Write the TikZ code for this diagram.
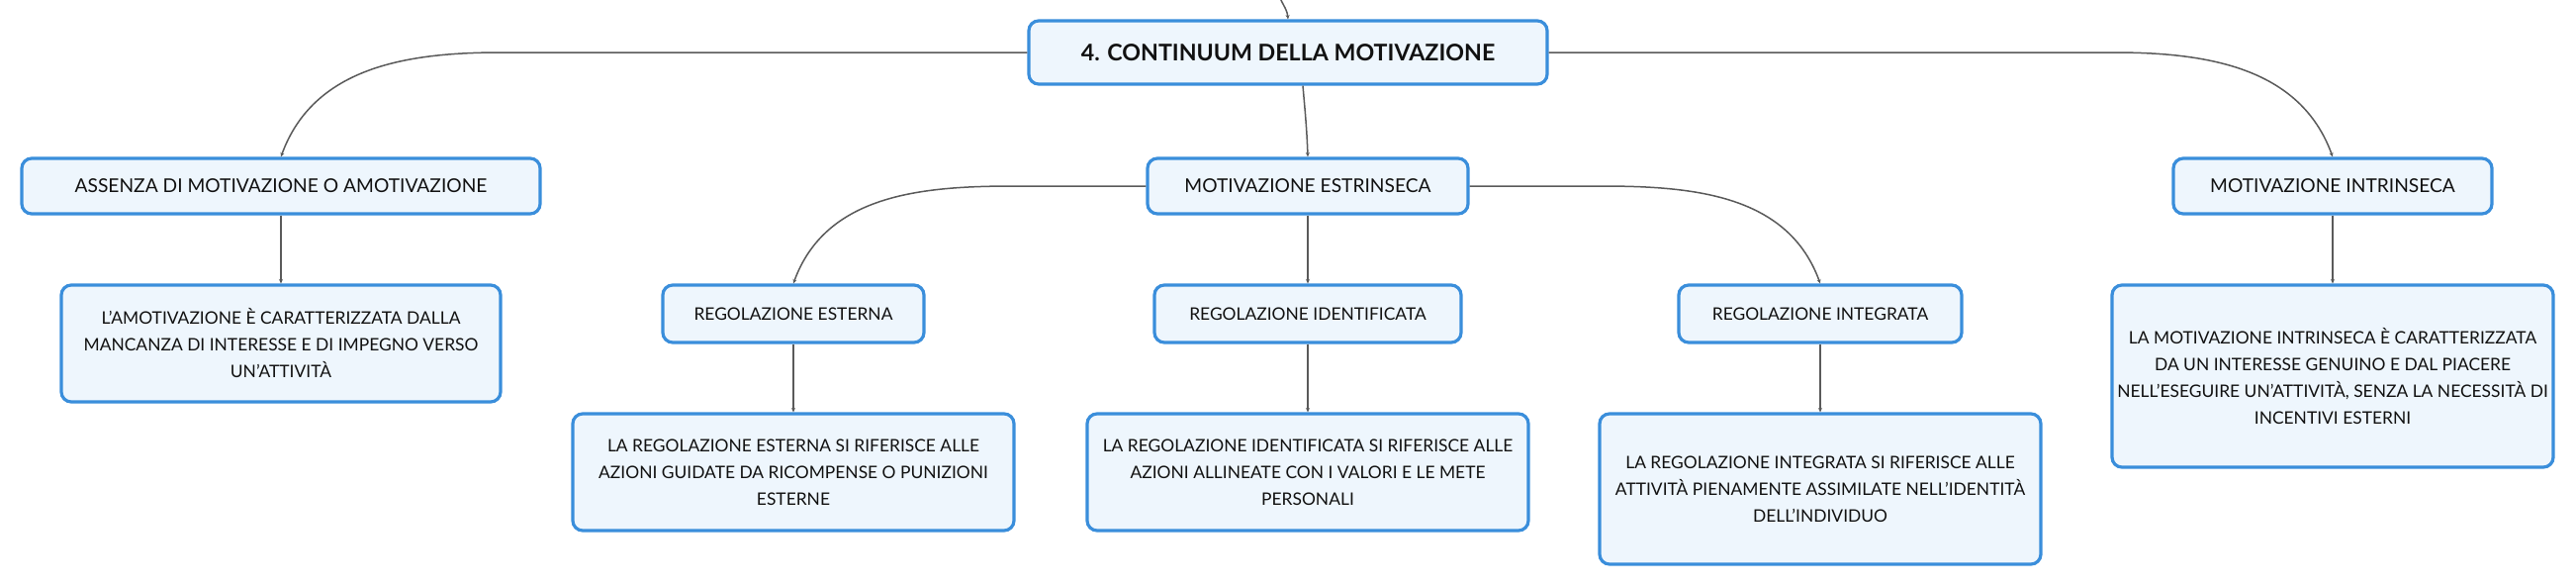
\documentclass[tikz,border=0pt]{standalone}
\usepackage{fontspec}
\setmainfont{Lato}
\usepackage{xcolor}
\usetikzlibrary{arrows.meta}
\definecolor{boxfill}{HTML}{EEF6FD}
\definecolor{boxline}{HTML}{3A8EDB}
\definecolor{linkc}{HTML}{5A5A5A}
\definecolor{ink}{HTML}{111111}
\tikzset{
  box/.style={draw=boxline, fill=boxfill, line width=1.6pt, rounded corners=5pt,
    align=center, text=ink, inner sep=0pt},
  rootbox/.style={box, font=\fontsize{11.6}{13}\selectfont\bfseries},
  mainbox/.style={box, font=\fontsize{9.6}{12}\selectfont},
  subbox/.style={box, font=\fontsize{8.7}{13.5}\selectfont},
  conn/.style={draw=linkc, line width=0.75pt, -{Stealth[length=2.2pt,width=2pt]}},
}
\begin{document}
\begin{tikzpicture}[x=0.5pt,y=0.5pt]
  \useasboundingbox[fill=white] (0,0) rectangle (2604,-591);
  % root
  \node[rootbox, minimum width=262pt, minimum height=32pt] (title) at (1302,-53)
    {4. CONTINUUM DELLA MOTIVAZIONE};
  \coordinate (up) at (1292,10);
  % first level
  \node[mainbox, minimum width=262pt, minimum height=28pt] (ass) at (284,-188)
    {ASSENZA DI MOTIVAZIONE O AMOTIVAZIONE};
  \node[mainbox, minimum width=162pt, minimum height=28pt] (est) at (1322,-188)
    {MOTIVAZIONE ESTRINSECA};
  \node[mainbox, minimum width=161pt, minimum height=28pt] (intr) at (2358,-188)
    {MOTIVAZIONE INTRINSECA};
  % second level
  \node[subbox, minimum width=222pt, minimum height=59pt] (assd) at (284,-347)
    {L'AMOTIVAZIONE È CARATTERIZZATA DALLA\\MANCANZA DI INTERESSE E DI IMPEGNO VERSO\\UN'ATTIVITÀ};
  \node[subbox, minimum width=132pt, minimum height=29pt] (ext) at (802,-317)
    {REGOLAZIONE ESTERNA};
  \node[subbox, minimum width=155pt, minimum height=29pt] (idf) at (1322,-317)
    {REGOLAZIONE IDENTIFICATA};
  \node[subbox, minimum width=143pt, minimum height=29pt] (itg) at (1840,-317)
    {REGOLAZIONE INTEGRATA};
  \node[subbox, minimum width=223pt, minimum height=92pt] (intrd) at (2358,-380)
    {LA MOTIVAZIONE INTRINSECA È CARATTERIZZATA\\DA UN INTERESSE GENUINO E DAL PIACERE\\NELL'ESEGUIRE UN'ATTIVITÀ, SENZA LA NECESSITÀ DI\\INCENTIVI ESTERNI};
  % third level
  \node[subbox, minimum width=223pt, minimum height=59pt] (extd) at (802,-477)
    {LA REGOLAZIONE ESTERNA SI RIFERISCE ALLE\\AZIONI GUIDATE DA RICOMPENSE O PUNIZIONI\\ESTERNE};
  \node[subbox, minimum width=223pt, minimum height=59pt] (idfd) at (1322,-477)
    {LA REGOLAZIONE IDENTIFICATA SI RIFERISCE ALLE\\AZIONI ALLINEATE CON I VALORI E LE METE\\PERSONALI};
  \node[subbox, minimum width=223pt, minimum height=76pt] (itgd) at (1840,-494)
    {LA REGOLAZIONE INTEGRATA SI RIFERISCE ALLE\\ATTIVITÀ PIENAMENTE ASSIMILATE NELL'IDENTITÀ\\DELL'INDIVIDUO};
  % links
  \draw[conn] (up) to[out=-83,in=95] (title.north);
  \draw[conn] (title.west) -- ++(-532,0) to[out=180,in=70] (ass.north);
  \draw[conn] (title.east) -- ++(571,0) to[out=0,in=110] (intr.north);
  \draw[conn] ([xshift=7.5pt]title.south) to[out=-85,in=92] (est.north);
  \draw[conn] (est.west) -- ++(-134,0) to[out=180,in=70] (ext.north);
  \draw[conn] (est.east) -- ++(133,0) to[out=0,in=110] (itg.north);
  \draw[conn] (est.south) -- (idf.north);
  \draw[conn] (ass.south) -- (assd.north);
  \draw[conn] (intr.south) -- (intrd.north);
  \draw[conn] (ext.south) -- (extd.north);
  \draw[conn] (idf.south) -- (idfd.north);
  \draw[conn] (itg.south) -- (itgd.north);
\end{tikzpicture}
\end{document}
